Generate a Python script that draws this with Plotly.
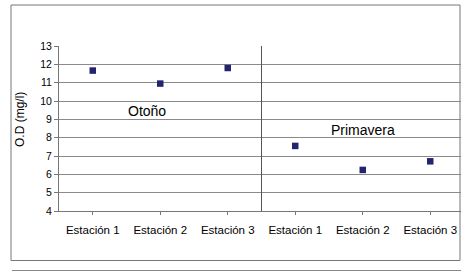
import plotly.graph_objects as go

categories = ["Estación 1", "Estación 2", "Estación 3", "Estación 1 ", "Estación 2 ", "Estación 3 "]
tick_labels = ["Estación 1", "Estación 2", "Estación 3", "Estación 1", "Estación 2", "Estación 3"]
od_values = [11.66, 10.95, 11.8, 7.55, 6.24, 6.71]
y_ticks = [4, 5, 6, 7, 8, 9, 10, 11, 12, 13]
season_labels = ["Otoño", "Primavera"]

W, H = 461, 271
L, R, T, B = 59, 0, 46, 60
pw, ph = W - L - R, H - T - B

def px(x):
    return (x - L) / pw

def py(y):
    return (H - B - y) / ph

fam = "Liberation Sans, Arial, sans-serif"
xfont = dict(family=fam, size=11.5, color="#000")
yfont = dict(family=fam, size=10.5, color="#000")

fig = go.Figure()
fig.add_trace(go.Scatter(
    x=list(range(len(categories))), y=od_values, mode="markers",
    marker=dict(symbol="square", size=6.5, color="#24246e"),
    showlegend=False, hoverinfo="skip"))

fig.update_layout(
    width=W, height=H, margin=dict(l=L, r=R, t=T, b=B),
    paper_bgcolor="white", plot_bgcolor="white", font=yfont,
    xaxis=dict(range=[-0.5, 5.5 - 3 / 67.5], tickmode="array",
               tickvals=list(range(len(categories))), ticktext=tick_labels,
               showgrid=False, zeroline=False, showline=True, linecolor="#777",
               ticks="outside", ticklen=3, tickcolor="#777", tickson="boundaries",
               tickfont=xfont, ticklabelstandoff=5, fixedrange=True),
    yaxis=dict(range=[4, 13], tickmode="array", tickvals=y_ticks,
               showgrid=True, gridcolor="#8a8a8a", gridwidth=1, zeroline=False,
               showline=True, linecolor="#777", ticks="outside", ticklen=4,
               tickcolor="#777", tickfont=yfont, fixedrange=True),
)

# separator between seasons
fig.add_shape(type="line", xref="x", yref="paper", x0=2.5, x1=2.5, y0=0, y1=1,
              line=dict(color="#555", width=1))
# outer frame
fig.add_shape(type="rect", xref="paper", yref="paper",
              x0=px(11), x1=px(460), y0=py(260.5), y1=py(5),
              line=dict(color="#777", width=1), layer="below")
fig.add_shape(type="line", xref="paper", yref="paper",
              x0=px(12), x1=px(461), y0=py(270.5), y1=py(270.5),
              line=dict(color="#888", width=1))

fig.add_annotation(x=0.8, y=9.46, xref="x", yref="y", text=season_labels[0],
                   showarrow=False, xanchor="center", yanchor="middle",
                   font=dict(family=fam, size=14, color="#000"))
fig.add_annotation(x=4.01, y=8.4, xref="x", yref="y", text=season_labels[1],
                   showarrow=False, xanchor="center", yanchor="middle",
                   font=dict(family=fam, size=14, color="#000"))
fig.add_annotation(x=px(20), y=py(120), xref="paper", yref="paper", text="O.D (mg/l)",
                   textangle=-90, showarrow=False, xanchor="center", yanchor="middle",
                   font=dict(family=fam, size=12, color="#000"))

fig.write_html("out.html", config={"displayModeBar": False},
               post_script="document.body.style.margin='0';document.body.style.overflow='hidden';")
